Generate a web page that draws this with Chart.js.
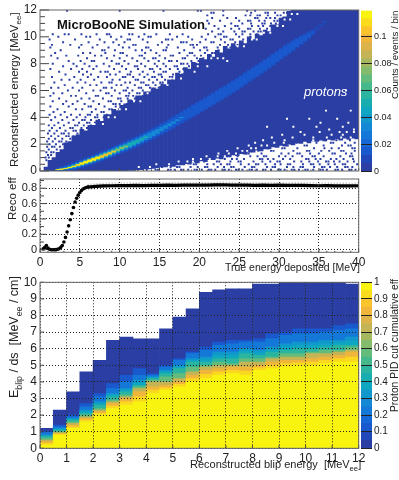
<!DOCTYPE html>
<html>
<head>
<meta charset="utf-8">
<title>MicroBooNE blip reconstruction</title>
<script src="https://cdn.jsdelivr.net/npm/chart.js@4/dist/chart.umd.min.js"></script>
<style>
  html, body { margin: 0; background: #fff; }
  body { position: relative; width: 399px; height: 480px; overflow: hidden; }
  canvas { position: absolute; display: block; }
</style>
</head>
<body>
<canvas id="energyMap" width="399" height="175" style="left:0;top:0"></canvas>
<canvas id="energyBar" width="41" height="175" style="left:358px;top:0"></canvas>
<canvas id="recoEff" width="399" height="100" style="left:0;top:175px"></canvas>
<canvas id="pidMap" width="399" height="205" style="left:0;top:275px"></canvas>
<canvas id="pidBar" width="41" height="205" style="left:358px;top:275px"></canvas>
<script>
// colour bar steps, bottom to top
const paletteColors = ['#2a3ea3', '#2148b8', '#1a58cd', '#1568d5', '#1478d8', '#1488d4', '#1098cc', '#0ea6c0', '#18aeb0', '#2bb49f',
  '#45b98c', '#63bb7c', '#85bb6c', '#a6b85f', '#c4b455', '#dcb24a', '#f0b63c', '#fcc42c', '#fbdc1c', '#f8f40f'];

// top panel: 0.5 MeV columns, edges of the filled region
const upperEdge = [0, .3, .8, 1, 1.4, 1.6, 2.1, 2.2, 2.6, 2.7, 3.1, 3, 3.4, 3.4, 3.8, 3.7, 4.2, 4.2, 4.6, 4.5,
  4.9, 5, 5.3, 5.2, 5.6, 5.6, 5.9, 5.9, 6.2, 6.1, 6.5, 6.4, 6.8, 6.8, 7.3, 7.2, 7.7, 7.6, 8.1, 8,
  8.4, 8.3, 8.7, 8.5, 9, 8.8, 9.3, 9.1, 9.5, 9.3, 9.7, 9.5, 10, 9.8, 10.2, 10.1, 10.5, 10.4, 10.9, 10.9,
  11.4, 11.5, 11.9, 12, 12, 12, 12, 12, 12, 12, 12, 12, 12, 12, 12, 12, 12, 12, 12, 12];
const lowerEdge = [0, 0, 0, 0, 0, 0, 0, 0, 0, 0, 0, 0, 0, 0, 0, 0, 0, 0, 0, 0,
  0, 0, .05, .05, .1, .1, .15, .15, .2, .25, .3, .3, .4, .35, .45, .45, .55, .5, .65, .6,
  .75, .7, .85, .85, .95, .9, 1.05, 1.05, 1.2, 1.15, 1.3, 1.25, 1.4, 1.4, 1.55, 1.5, 1.65, 1.65, 1.8, 1.75,
  1.9, 1.85, 2, 1.95, 2.1, 2.05, 2.2, 2.1, 2.25, 2.2, 2.3, 2.25, 2.35, 2.3, 2.4, 2.3, 2.45, 2.35, 2.45, 2.4];

// the proton band, columns start at 2.25 MeV
const ridgeStart = 2.25;
const ridgeCenter = [.1, .14, .2, .27, .35, .45, .55, .66, .76, .87, .98, 1.09, 1.2, 1.32, 1.45, 1.58, 1.71, 1.83, 1.96, 2.09,
  2.22, 2.36, 2.51, 2.65, 2.8, 2.95, 3.12, 3.28, 3.45, 3.62, 3.8, 3.98, 4.16, 4.33, 4.5, 4.67, 4.85, 5.02, 5.2, 5.38,
  5.56, 5.74, 5.92, 6.1, 6.28, 6.48, 6.68, 6.88, 7.08, 7.28, 7.48, 7.68, 7.88, 8.08, 8.3, 8.52, 8.72, 8.94, 9.14, 9.34,
  9.54, 9.74, 9.92, 10.12, 10.34, 10.6, 10.85, 11.1];
const widthHalo = [.16, .2, .24, .28, .3, .32, .34, .34, .35, .36, .36, .37, .37, .38, .38, .39, .39, .4, .4, .41,
  .41, .42, .42, .43, .43, .44, .44, .44, .45, .45, .45, .46, .46, .46, .46, .47, .47, .47, .47, .47,
  .47, .47, .47, .47, .47, .47, .47, .47, .46, .46, .46, .46, .45, .45, .44, .44, .43, .42, .41, .4,
  .38, .36, .33, .28, .2, .12, .08, .06];
const widthBlue = [.08, .12, .15, .18, .2, .22, .23, .23, .24, .25, .25, .26, .27, .27, .28, .28, .29, .29, .3, .3,
  .31, .31, .32, .32, .33, .33, .34, .34, .35, .35, .35, .36, .36, .36, .37, .37, .37, .38, .38, .38,
  .38, .38, .38, .38, .38, .38, .38, .38, .37, .37, .37, .37, .36, .36, .35, .35, .34, .33, .32, .3,
  .28, .25, .2, .15, .06];
const widthCyan = [0, .03, .06, .09, .12, .14, .15, .16, .17, .18, .18, .19, .19, .2, .2, .2, .2, .2, .2, .2, .19, .19, .18, .18, .17, .15, .13, .11, .09, .07, .04, .02];
const widthTeal = [0, 0, .01, .04, .07, .09, .1, .11, .12, .12, .12, .13, .13, .13, .13, .12, .12, .11, .1, .09, .07, .05, .03];
const widthGreen = [0, 0, 0, 0, .03, .05, .07, .08, .09, .09, .09, .09, .09, .08, .07, .06, .05, .03];
const widthOrange = [0, 0, 0, 0, 0, .03, .05, .06, .07, .07, .06, .05, .04, .03, .02];
const widthYellow = [0, 0, 0, 0, 0, 0, .02, .035, .04, .035, .03];

// single filled bins outside the region: [y, x, x, ...]
const upperBins = [
  [11.95, 3.4, 10, 15.5, 19.8, 20.2, 23, 26, 27],
  [11.8, 21.5, 21.8, 26.5, 28.3, 28.6, 29.5, 30.6, 31],
  [11.6, 21, 23, 25.8, 26.4, 27.3, 27.6, 28.6, 29.8, 30.2, 31.2],
  [11.4, 21.6, 23.5, 24.6, 27, 27.3, 28.4, 28.9, 29.5, 30.5],
  [11.2, 21, 22.6, 25, 26.1, 26.4, 27.5, 28.2, 29.4, 29.8, 30.3],
  [11, 21.2, 24, 25.4, 26.5, 27.9, 28.2, 29, 29.6],
  [10.8, 21.9, 23.2, 24.5, 24.8, 26.6, 27.4, 28, 28.9, 29.2],
  [10.6, 20.8, 22.4, 24, 25, 26.1, 26.4, 27.6, 28.5],
  [10.4, 21.6, 23, 24.4, 25.4, 25.7, 26.8, 27.4, 27.7],
  [10.2, 1.6, 3.1, 3.6, 5.2, 7.1, 8.4, 8.7, 11.2, 11.6, 13.1, 14.6, 16.3, 17.9, 21.1, 22.4, 22.7, 24.6, 25.4, 26.4, 27.2],
  [10, 2.3, 5.8, 6.3, 8.9, 10.2, 12.4, 13.6, 13.9, 17.2, 18.6, 20.3, 22, 23.1, 23.4, 25, 26.4],
  [9.8, 1.2, 4.4, 7.5, 9.6, 11, 11.3, 12.9, 15.8, 16.1, 16.6, 19.1, 20.8, 22.7, 23.9, 24.2, 25.5],
  [9.6, 2.9, 6.1, 8.1, 9.2, 10.6, 13.5, 15.3, 17.7, 18, 18.4, 20.1, 21.5, 21.8, 23.2, 24.5, 25.4],
  [9.4, 1.5, 3.8, 5.2, 7.2, 9.9, 11.7, 12, 14.8, 16.1, 18.9, 19.2, 19.7, 22.6, 23.6, 24.8],
  [9.2, 1.3, 4.9, 6.6, 8.6, 10.4, 11.2, 13.3, 13.6, 15.9, 17.3, 19.3, 20.6, 20.9, 22.3, 23.9],
  [9, 2.6, 7.8, 8.1, 9.4, 12, 12.8, 13.9, 15.5, 15.8, 18.1, 20.1, 21, 22.4, 23.3],
  [8.8, 1.9, 5.4, 6.3, 8.2, 10.1, 10.4, 13.2, 14.6, 17.5, 18.8, 19.1, 20.7, 21.6, 21.9],
  [8.6, 1.4, 3.3, 4.8, 6.9, 7.7, 9.3, 10.9, 12.5, 12.8, 15, 16.4, 16.7, 18.5, 19.4, 20.2, 21.4],
  [8.4, 2.2, 5.9, 8.4, 10, 11.6, 13.1, 14.2, 14.5, 15.7, 17.9, 18.2, 19.7, 20.5],
  [8.2, 3.6, 5.1, 6.5, 6.8, 9, 10.6, 12.2, 13.6, 14.9, 16.2, 16.5, 17.2, 19, 19.9, 20.9],
  [8, 1.6, 4.2, 5.6, 8, 9.6, 9.9, 11.1, 12.7, 14.4, 15.5, 17.7, 18, 18.5, 19.6],
  [7.8, 2.9, 4.6, 6.2, 7.1, 8.7, 10.3, 11.9, 12.2, 13.2, 14.7, 15.8, 16.9, 17.2, 18.7, 19.3],
  [7.6, 1.3, 3.9, 5.3, 6.7, 9.3, 10.8, 12.3, 13.8, 14.1, 15.1, 16.3, 17.3, 18, 18.3],
  [7.4, 2.4, 4.9, 5.9, 7.6, 8.2, 8.5, 10, 11.4, 12.9, 14.3, 15.5, 15.8, 17.5, 18.4],
  [7.2, 3.2, 5.4, 6.4, 8.8, 9.5, 11, 11.3, 12.5, 13.5, 14.9, 15.2, 16.7, 17.8],
  [7, 1.5, 4.3, 6, 7.3, 8.4, 10.4, 10.7, 11.7, 13.1, 14.1, 14.4, 15.3, 16.3, 16.6],
  [6.8, 2.7, 3.7, 5.1, 6.8, 9.1, 10, 12, 12.3, 13.7, 14.7, 15.7, 16.5],
  [6.6, 1.8, 4.7, 5.7, 7.7, 8.7, 9, 10.7, 11.3, 12.7, 13, 14.2, 15.1, 15.4],
  [6.4, 3.1, 6.3, 7.1, 9.6, 10.2, 11.9, 13.3, 13.6, 14.5, 15.7],
  [6.2, 1.4, 2.3, 4.1, 5.3, 8, 8.3, 9, 11, 12.4, 12.7, 13.8, 14.9],
  [6, 3.5, 4.9, 6.7, 7.6, 9.4, 10.5, 10.8, 11.6, 12.9, 14],
  [5.8, 1.7, 2.8, 5.8, 8.3, 8.6, 10, 11.2, 12.2, 12.5, 13.6],
  [5.6, 1.3, 3.9, 4.5, 7, 7.3, 9, 10.8, 11.1, 11.7, 12.9],
  [5.4, 2.4, 5.2, 6.2, 7.9, 9.8, 10.1, 11, 11.9, 12.2],
  [5.2, 1.6, 3.3, 4.7, 6.7, 8.6, 8.9, 10.2, 11.3, 11.6],
  [5, 2.9, 4.1, 5.6, 7.4, 9.2, 9.5, 10, 10.9],
  [4.8, 1.3, 3.6, 6.1, 6.4, 8.1, 9.5, 10.4],
  [4.6, 2.2, 4.5, 5.3, 7, 8.7, 9, 9.9],
  [4.4, 1.7, 3.1, 6.5, 7.7, 8, 9.3],
  [4.2, 1.2, 2.6, 3.9, 5, 6, 6.3, 7.2, 8.4],
  [4, 1.9, 3.4, 4.6, 5.7, 6.9, 7.2, 8],
  [3.8, 1.4, 2.8, 4.2, 5.3, 5.6, 6.4, 7.4],
  [3.6, 2.3, 3.6, 4.9, 5.9, 6.2, 6.9],
  [3.4, 1.1, 1.8, 3, 4.4, 4.7, 5.5, 6.4],
  [3.2, 1.5, 2.5, 3.8, 4.1, 5.2, 5.9],
  [3, 1.2, 2.1, 3.2, 4.2, 4.5, 5.4],
  [2.8, 1, 1.8, 2.7, 3, 3.6, 4.7],
  [2.6, 1.4, 2.3, 3.3, 3.6, 4.2],
  [2.4, 1.1, 1.9, 2.8, 3.8],
  [2.2, .9, 1.6, 2.4, 2.7, 3.3],
  [2, 1.2, 2, 2.9],
  [1.8, .9, 1.5, 1.8, 2.5],
  [1.6, 1.1, 2.1],
  [1.4, .8, 1.4, 1.7],
  [1.2, 1, 1.4],
  [1, .7, 1.1],
  [.8, .8]
];
const lowerBins = [
  [2.3, 33.6, 35.8, 37.2, 38.9],
  [2.1, 31.9, 32.2, 34.7, 36.5, 36.8, 38.3, 39.5],
  [1.9, 29.9, 31.1, 33.2, 33.5, 35.6, 37.9, 38.7, 39],
  [1.7, 28.6, 30.4, 30.7, 32.3, 34.4, 35.7, 36.6, 37.5, 39.2, 39.5],
  [1.5, 27.4, 29, 29.3, 31.8, 33.5, 33.8, 35.3, 36.3, 37.8, 38.1, 39.5],
  [1.3, 25.9, 26.2, 27.8, 30.3, 31.2, 32.3, 32.6, 33.9, 35, 36.7, 37, 38.4, 39.1],
  [1.1, 24.8, 26.4, 27.3, 28.1, 28.4, 30, 30.8, 31.7, 32.9, 34.2, 34.5, 35.6, 37.7, 38.9, 39.2],
  [.9, 23.2, 24.1, 24.7, 25.6, 27.6, 27.9, 28.6, 29.3, 30.5, 31.4, 33.4, 33.7, 34.6, 35.2, 36.5, 37.2, 38.1, 39.3],
  [.7, 20.6, 22.2, 22.5, 23.9, 24.9, 25.2, 26.8, 27.9, 28.9, 29.8, 30.1, 31.9, 32.8, 33.8, 34.9, 35.9, 36.2, 36.9, 37.6, 38.6, 39.4],
  [.5, 18.1, 19.3, 19.6, 21, 21.8, 22.7, 23.5, 23.8, 25.2, 26.2, 27.1, 27.4, 28.3, 29.5, 30.2, 31.1, 31.4, 33, 34, 34.3, 35.1, 36.2, 37, 38, 38.3, 39.8],
  [.3, 15.3, 16.4, 17.2, 17.5, 18.9, 19.8, 20.7, 21, 22.3, 23.1, 24, 24.3, 25.7, 26.6, 26.9, 28.5, 29.2, 29.5, 31, 31.8, 32.7, 33, 34.4, 35.4, 35.7, 36.4, 37.3, 38.3, 38.6, 39.2],
  [.1, 12.3, 13.4, 14.5, 14.8, 16.1, 16.4, 16.9, 17.7, 18, 18.6, 19.4, 19.7, 20.3, 21.2, 21.5, 22, 22.9, 23.2, 23.7, 24.6, 24.9, 25.4, 26.3, 26.6, 27.2, 28, 28.3, 29, 29.9, 30.2, 30.7, 31.6, 31.9, 32.5, 33.3, 33.6, 34.3, 35.2, 35.5, 36, 37.1, 37.4, 37.9, 38.8, 39.1, 39.6]
];
// empty bins inside the filled region
const emptyBins = [
  [11.7, 31.6, 32.3], [11.3, 30.7, 31.4], [10.8, 29.8, 30.5], [10.3, 28.1, 28.9], [9.8, 26.6, 27.2], [9.3, 24.8, 25.6],
  [8.4, 21.5, 22.3, 23], [8.2, 23.5], [7.8, 19.8, 21], [7.4, 17.9, 19.4], [6.9, 16.4, 17.7], [6.4, 15, 16], [5.8, 13.5],
  [5.2, 11.8, 12.6], [4.6, 10, 10.8], [4, 8.6, 9.4], [3.5, 6.8, 7.9],
  [6, 38.4], [4.5, 35.9, 39], [3.9, 31, 33.8, 37.3], [3.6, 35.2, 38.7], [3.3, 28.5, 31.8, 34.7, 38], [3.1, 36.3, 39.4],
  [2.9, 32.7, 35.1, 37.6, 38.5, 39.4], [2.7, 30.4, 33.2, 36.6, 38], [2.5, 29.1, 31.7, 34.3, 36, 37.8, 39],
  [2.3, 28, 30.7, 34.3], [2.1, 27, 29.4, 30.6], [1.9, 26.2, 27.8, 28.5], [1.7, 24.8, 26.5, 27.1],
  [1.5, 23.5, 25.4, 26], [1.3, 22.4, 23.7, 24.6], [1.1, 20.9, 22.3, 23.2], [.9, 19.2, 20.2, 21.3], [.7, 17.4, 18.5, 19.2], [.5, 14.6, 16.2], [.3, 12.4, 13.8]
];

// middle panel
const riseX = [.4, .6, .8, 1, 1.2, 1.4, 1.6, 1.8, 2, 2.2, 2.4, 2.6, 2.8, 3, 3.2, 3.4, 3.6, 3.8, 4, 4.2, 4.4, 4.6, 4.8, 5, 5.2, 5.4, 5.6, 5.8, 6];
const riseEff = [.01, .03, .055, .02, .005, 0, 0, 0, .002, .005, .012, .03, .055, .1, .16, .23, .31, .39, .47, .55, .62, .67, .71, .745, .77, .79, .8, .81, .815];
const plateauX = [6, 7, 8, 9, 10, 11, 12, 13, 14, 15, 16, 17, 18, 19, 20, 21, 22, 23, 24, 25, 26, 27, 28, 29, 30, 31, 32, 33, 34, 35, 36, 37, 38, 39, 40];
const plateauEff = [.815, .825, .83, .832, .835, .834, .836, .835, .838, .836, .84, .838, .84, .839, .842, .84, .843, .845, .841, .842,
  .84, .838, .84, .838, .84, .836, .838, .836, .835, .832, .835, .83, .832, .83, .832];

// bottom panel: 0.5 MeV columns, height reached by each efficiency band
const pidTop = [1.2, 2.3, 3.4, 4.6, 5.3, 6.5, 6.7, 6.6, 6.6, 7.2, 7.9, 8.4, 9.4, 9.55, 9.6, 9.6, 9.9, 9.9, 10, 10, 10, 10, 10, 9.9];
const pidDeep = [1, 1.4, 2, 2.7, 3.3, 3.9, 4.4, 4.8, 4.5, 5, 5.4, 5.8, 6.1, 6.4, 6.5, 6.5, 6.6, 6.9, 7, 7.2, 7.2, 7.2, 7.4, 7.5];
const pidBlue = [.95, 1.3, 1.9, 2.5, 3.1, 3.6, 4, 4.4, 4.4, 4.9, 5.3, 5.7, 5.9, 6.2, 6.3, 6.4, 6.4, 6.6, 6.8, 6.9, 6.9, 7, 7.1, 7.2];
const pidSky = [.8, 1.2, 1.8, 2.3, 2.8, 3.3, 3.6, 4.1, 4.3, 4.7, 5, 5.4, 5.5, 5.8, 5.8, 6, 5.9, 6.1, 6.3, 6.4, 6.4, 6.5, 6.5, 6.7];
const pidAqua = [.75, 1.15, 1.75, 2.2, 2.7, 3.2, 3.5, 3.95, 4.25, 4.6, 4.9, 5.3, 5.35, 5.6, 5.6, 5.85, 5.75, 5.95, 6.1, 6.2, 6.2, 6.3, 6.35, 6.45];
const pidTeal = [.7, 1.1, 1.7, 2.1, 2.6, 3.1, 3.4, 3.8, 4.2, 4.5, 4.8, 5.2, 5.2, 5.4, 5.4, 5.7, 5.6, 5.8, 5.9, 6, 6, 6.1, 6.2, 6.2];
const pidGreen = [.6, 1, 1.6, 2, 2.4, 2.9, 3.2, 3.7, 4.1, 4.3, 4.5, 4.9, 5, 5.2, 5.1, 5.4, 5.4, 5.5, 5.7, 5.7, 5.8, 5.9, 5.9, 6.1];
const pidOlive = [.5, .95, 1.5, 1.9, 2.3, 2.8, 3.1, 3.6, 4, 4, 4.2, 4.6, 4.9, 5, 5, 5.2, 5.2, 5.4, 5.5, 5.5, 5.7, 5.7, 5.8, 5.9];
const pidOrange = [.4, .9, 1.4, 1.8, 2.2, 2.7, 3, 3.4, 3.7, 3.8, 4, 4.4, 4.7, 4.8, 4.9, 4.9, 5, 5.2, 5.3, 5.3, 5.4, 5.5, 5.6, 5.8];
const pidAmber = [.3, .85, 1.3, 1.7, 2.1, 2.55, 2.8, 3.1, 3.5, 3.65, 3.85, 4.2, 4.45, 4.6, 4.7, 4.65, 4.85, 5, 5.1, 5.15, 5.2, 5.3, 5.4, 5.5];
const pidYellow = [.2, .8, 1.2, 1.6, 2, 2.4, 2.6, 2.8, 3.3, 3.5, 3.7, 4, 4.2, 4.4, 4.5, 4.4, 4.7, 4.8, 4.9, 5, 5, 5.1, 5.2, 5.2];

const BODY_BLUE = paletteColors[0];
const FONT = '"Liberation Sans", Arial, sans-serif';
Chart.defaults.font.family = FONT;
Chart.defaults.color = '#222';
Chart.defaults.animation = false;
Chart.defaults.responsive = false;
Chart.defaults.devicePixelRatio = 1;

const binsToPoints = rows => rows.flatMap(([y, ...xs]) => xs.map(x => ({ x, y })));
const column = i => .25 + i * .5;

function floatingRidge(widths, color) {
  return {
    backgroundColor: color,
    data: widths.map((w, i) => ({ x: ridgeStart + i * .5, y: [ridgeCenter[i] - w, ridgeCenter[i] + w] }))
  };
}

function binDots(rows, color) {
  return { type: 'scatter', data: binsToPoints(rows), backgroundColor: color, borderWidth: 0, pointStyle: 'rect', pointRadius: 1.4 };
}

function pidBand(values, color) {
  return { backgroundColor: color, data: values.map((v, i) => ({ x: column(i), y: v })) };
}

// frame and ROOT style inner ticks
function rootFrame(xTicks, yTicks) {
  const tickRun = (scale, t, draw) => {
    for (let v = Math.ceil(scale.min / t.minor - 1e-6) * t.minor; v <= scale.max + 1e-6; v += t.minor) {
      const isMajor = Math.abs(v / t.major - Math.round(v / t.major)) < 1e-6;
      draw(scale.getPixelForValue(v), isMajor ? t.majorLen : t.minorLen, isMajor);
    }
  };
  return {
    id: 'rootFrame',
    afterDraw(chart) {
      const { ctx, chartArea: a, scales } = chart;
      ctx.save();
      ctx.lineWidth = 1;
      ctx.strokeStyle = '#444';
      tickRun(scales.x, xTicks, (px, len) => {
        ctx.beginPath();
        ctx.moveTo(px, a.bottom);
        ctx.lineTo(px, a.bottom - len);
        ctx.stroke();
      });
      tickRun(scales.y, yTicks, (py, len) => {
        ctx.beginPath();
        ctx.moveTo(a.left, py);
        ctx.lineTo(a.left + len, py);
        ctx.stroke();
      });
      ctx.strokeStyle = '#666';
      ctx.strokeRect(a.left, a.top, a.right - a.left, a.bottom - a.top);
      ctx.restore();
    }
  };
}

// text with subscripts: parts are [string, isSubscript]
function textLayer(items) {
  return {
    id: 'textLayer',
    afterDraw(chart) {
      const ctx = chart.ctx;
      items.forEach(item => {
        ctx.save();
        ctx.translate(item.x, item.y);
        if (item.vertical) ctx.rotate(-Math.PI / 2);
        ctx.fillStyle = item.color || '#222';
        ctx.textBaseline = 'alphabetic';
        let pos = 0;
        item.parts.forEach(([text, sub]) => {
          const size = sub ? item.size * .7 : item.size;
          ctx.font = (item.style || '') + ' ' + size + 'px ' + FONT;
          ctx.fillText(text, pos, sub ? item.size * .28 : 0);
          pos += ctx.measureText(text).width;
        });
        ctx.restore();
      });
    }
  };
}

function panelScales(o) {
  return {
    x: {
      type: 'linear', min: o.xMin, max: o.xMax, offset: false,
      grid: { display: o.grid, offset: false, drawTicks: false, color: '#222', z: 1 },
      border: { display: false, dash: [1, 2] },
      ticks: { display: o.xLabels, stepSize: o.xStep, autoSkip: false, maxRotation: 0, padding: 3, font: { size: 12 }, includeBounds: false },
      afterFit: s => { s.height = o.xSpace; s.paddingLeft = 0; s.paddingRight = 0; }
    },
    y: {
      min: o.yMin, max: o.yMax,
      grid: { display: o.grid, drawTicks: false, color: '#222', z: 1 },
      border: { display: false, dash: [1, 2] },
      ticks: { stepSize: o.yStep, autoSkip: false, padding: 3, font: { size: o.ySize || 12 }, includeBounds: false },
      afterFit: s => { s.width = 40; s.paddingTop = 0; s.paddingBottom = 0; }
    }
  };
}

const basePlugins = { legend: { display: false }, tooltip: { enabled: false } };

// top panel
new Chart(document.getElementById('energyMap'), {
  type: 'bar',
  data: {
    datasets: [
      floatingRidge(widthYellow, '#f8f40f'),
      floatingRidge(widthOrange, '#fcc42c'),
      floatingRidge(widthGreen, '#85bb6c'),
      floatingRidge(widthTeal, '#18aeb0'),
      floatingRidge(widthCyan, '#1488d4'),
      floatingRidge(widthBlue, '#1a58cd'),
      floatingRidge(widthHalo, '#2148b8'),
      binDots(emptyBins, '#ffffff'),
      binDots(upperBins, BODY_BLUE),
      binDots(lowerBins, BODY_BLUE),
      { backgroundColor: BODY_BLUE, data: upperEdge.map((top, i) => ({ x: column(i), y: [lowerEdge[i], top] })) }
    ]
  },
  options: {
    layout: { padding: { top: 10, right: 40.3 } },
    datasets: { bar: { barPercentage: 1, categoryPercentage: 1, grouped: false, borderWidth: 0 } },
    scales: panelScales({ xMin: 0, xMax: 40, xStep: 5, xLabels: false, xSpace: 3.5, yMin: 0, yMax: 12, yStep: 2, grid: false }),
    plugins: basePlugins
  },
  plugins: [
    rootFrame({ major: 5, minor: 1, majorLen: 3, minorLen: 1.5 }, { major: 2, minor: .5, majorLen: 9, minorLen: 5 }),
    textLayer([
      { parts: [['Reconstructed energy [MeV', 0], ['ee', 1], [']', 0]], x: 18, y: 167, size: 11.5, vertical: true },
      { parts: [['MicroBooNE Simulation', 0]], x: 57, y: 29, size: 13, style: 'bold', color: '#111' },
      { parts: [['protons', 0]], x: 304, y: 96, size: 13, style: 'italic', color: '#fff' }
    ])
  ]
});

// middle panel
new Chart(document.getElementById('recoEff'), {
  type: 'scatter',
  data: {
    datasets: [
      { data: riseX.map((x, i) => ({ x, y: riseEff[i] })), backgroundColor: '#000', borderWidth: 0, pointRadius: 1.8 },
      { data: plateauX.map((x, i) => ({ x, y: plateauEff[i] })), showLine: true, borderColor: '#000', borderWidth: 3.2, pointRadius: 0 },
      { data: plateauX.map((x, i) => ({ x, y: plateauEff[i] })), showLine: true, borderColor: '#b5b5b5', borderWidth: 6.5, borderDash: [1, 2], pointRadius: 0 }
    ]
  },
  options: {
    layout: { padding: { top: 3.5, right: 40.3 } },
    scales: panelScales({ xMin: 0, xMax: 40, xStep: 5, xLabels: true, xSpace: 22.7, yMin: -.034, yMax: .92, yStep: .2, ySize: 11, grid: true }),
    plugins: basePlugins
  },
  plugins: [
    rootFrame({ major: 5, minor: 1, majorLen: 3, minorLen: 1.5 }, { major: .2, minor: .1, majorLen: 6, minorLen: 4 }),
    textLayer([
      { parts: [['Reco eff', 0]], x: 16, y: 45, size: 11.5, vertical: true },
      { parts: [['True energy deposited [MeV]', 0]], x: 225, y: 95.5, size: 10.5 }
    ])
  ]
});

// bottom panel
new Chart(document.getElementById('pidMap'), {
  type: 'bar',
  data: {
    datasets: [
      pidBand(pidYellow, '#f8f40f'),
      pidBand(pidAmber, '#fbd820'),
      pidBand(pidOrange, '#f0b63c'),
      pidBand(pidOlive, '#c4b455'),
      pidBand(pidGreen, '#63bb7c'),
      pidBand(pidTeal, '#2bb49f'),
      pidBand(pidAqua, '#0ea6c0'),
      pidBand(pidSky, '#1098cc'),
      pidBand(pidBlue, '#1478d8'),
      pidBand(pidDeep, '#1a58cd'),
      pidBand(pidTop, BODY_BLUE)
    ]
  },
  options: {
    layout: { padding: { top: 7.3, right: 40.3 } },
    datasets: { bar: { barPercentage: 1, categoryPercentage: 1, grouped: false, borderWidth: 0 } },
    scales: panelScales({ xMin: 0, xMax: 12, xStep: 1, xLabels: true, xSpace: 31.7, yMin: 0, yMax: 10, yStep: 1, grid: true }),
    plugins: basePlugins
  },
  plugins: [
    rootFrame({ major: 1, minor: 1, majorLen: 3, minorLen: 3 }, { major: 1, minor: 1, majorLen: 4, minorLen: 4 }),
    textLayer([
      { parts: [['E', 0], ['blip', 1], [' / ds  [MeV', 0], ['ee', 1], [' / cm]', 0]], x: 18, y: 123, size: 12.5, vertical: true },
      { parts: [['Reconstructed blip energy  [MeV', 0], ['ee', 1], [']', 0]], x: 190, y: 193, size: 11 }
    ])
  ]
});

// colour bars
function colorBar(id, max, step, size, top, bottom, title) {
  new Chart(document.getElementById(id), {
    type: 'bar',
    data: {
      labels: [''],
      datasets: paletteColors.map((color, i) => ({ data: [[i * max / 20, (i + 1) * max / 20]], backgroundColor: color }))
    },
    options: {
      layout: { padding: { left: 3, top, bottom } },
      datasets: { bar: { barPercentage: 1, categoryPercentage: 1, grouped: false, borderWidth: 0 } },
      scales: {
        x: { display: false },
        y: {
          position: 'right', min: 0, max,
          grid: { drawTicks: false, color: '#222', z: 1 },
          border: { display: false },
          ticks: { stepSize: step, padding: 2, autoSkip: false, font: { size }, includeBounds: false, callback: v => String(+v.toFixed(2)) },
          afterFit: s => { s.width = 27; s.paddingTop = 0; s.paddingBottom = 0; }
        }
      },
      plugins: basePlugins
    },
    plugins: [textLayer([title])]
  });
}

colorBar('energyBar', .119, .02, 9, 10.5, 3.5, { parts: [['Counts / events / bin', 0]], x: 40, y: 99, size: 9.7, vertical: true });
colorBar('pidBar', 1, .1, 10, 7.3, 31.7, { parts: [['Proton PID cut cumulative eff', 0]], x: 40, y: 137, size: 10.3, vertical: true });
</script>
</body>
</html>
